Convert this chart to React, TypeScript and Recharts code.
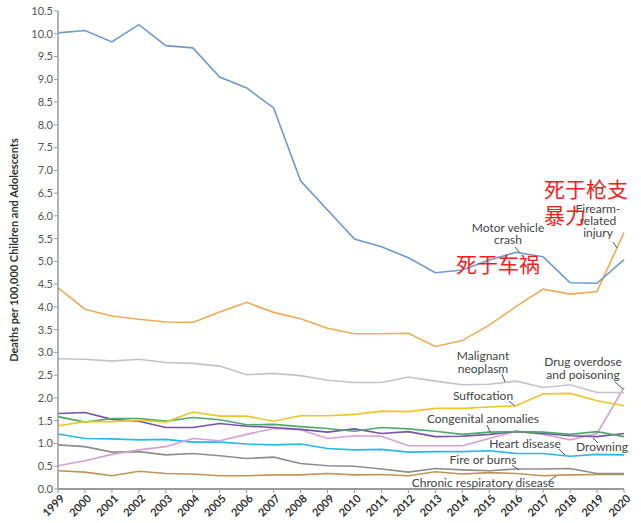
import { LineChart, Line, XAxis, YAxis } from 'recharts'

const YEARS = [
  1999, 2000, 2001, 2002, 2003, 2004, 2005, 2006, 2007, 2008, 2009,
  2010, 2011, 2012, 2013, 2014, 2015, 2016, 2017, 2018, 2019, 2020,
]

const MOTOR = [10.02, 10.07, 9.82, 10.2, 9.74, 9.69, 9.05, 8.81, 8.37, 6.77, 6.13, 5.49, 5.32, 5.08, 4.75, 4.81, 5.03, 5.2, 5.1, 4.53, 4.52, 5.04]
const FIREARM = [4.42, 3.95, 3.8, 3.73, 3.67, 3.66, 3.89, 4.1, 3.88, 3.74, 3.53, 3.41, 3.41, 3.42, 3.13, 3.26, 3.6, 4.01, 4.39, 4.28, 4.34, 5.63]
const NEOPLASM = [2.86, 2.85, 2.81, 2.85, 2.78, 2.76, 2.7, 2.51, 2.54, 2.49, 2.39, 2.34, 2.34, 2.46, 2.37, 2.29, 2.3, 2.37, 2.23, 2.29, 2.12, 2.12]
const SUFFOCATION = [1.39, 1.48, 1.48, 1.51, 1.47, 1.69, 1.6, 1.6, 1.49, 1.61, 1.61, 1.64, 1.71, 1.7, 1.77, 1.77, 1.8, 1.83, 2.09, 2.1, 1.94, 1.83]
const CONGENITAL = [1.59, 1.47, 1.55, 1.55, 1.49, 1.57, 1.52, 1.41, 1.42, 1.37, 1.33, 1.27, 1.35, 1.32, 1.27, 1.2, 1.25, 1.26, 1.25, 1.2, 1.26, 1.15]
const DROWNING = [1.66, 1.68, 1.53, 1.49, 1.35, 1.35, 1.44, 1.38, 1.35, 1.31, 1.25, 1.32, 1.22, 1.26, 1.15, 1.16, 1.2, 1.26, 1.22, 1.17, 1.15, 1.22]
const DRUG = [0.51, 0.62, 0.76, 0.86, 0.93, 1.11, 1.06, 1.2, 1.33, 1.3, 1.11, 1.17, 1.16, 0.95, 0.95, 0.95, 1.11, 1.27, 1.2, 1.08, 1.22, 2.23]
const HEART = [1.21, 1.11, 1.1, 1.08, 1.09, 1.03, 1.03, 0.99, 0.97, 0.99, 0.89, 0.86, 0.87, 0.81, 0.82, 0.82, 0.84, 0.78, 0.78, 0.72, 0.76, 0.75]
const FIRE = [0.97, 0.93, 0.81, 0.82, 0.75, 0.78, 0.73, 0.67, 0.7, 0.56, 0.51, 0.5, 0.44, 0.37, 0.45, 0.42, 0.4, 0.44, 0.44, 0.45, 0.34, 0.34]
const RESPIRATORY = [0.4, 0.37, 0.29, 0.39, 0.34, 0.33, 0.29, 0.29, 0.31, 0.31, 0.34, 0.31, 0.32, 0.29, 0.38, 0.33, 0.36, 0.34, 0.29, 0.31, 0.32, 0.32]

const Y_TICKS = [0, 0.5, 1, 1.5, 2, 2.5, 3, 3.5, 4, 4.5, 5, 5.5, 6, 6.5, 7, 7.5, 8, 8.5, 9, 9.5, 10, 10.5]

const data = YEARS.map((year, i) => ({
  year,
  motor: MOTOR[i],
  firearm: FIREARM[i],
  neoplasm: NEOPLASM[i],
  suffocation: SUFFOCATION[i],
  congenital: CONGENITAL[i],
  drowning: DROWNING[i],
  drug: DRUG[i],
  heart: HEART[i],
  fire: FIRE[i],
  respiratory: RESPIRATORY[i],
}))

const SERIES = [
  { key: 'respiratory', color: '#c09552' },
  { key: 'fire', color: '#8d8d8d' },
  { key: 'heart', color: '#25b8ee' },
  { key: 'drug', color: '#d7a0d5' },
  { key: 'drowning', color: '#7a52a8' },
  { key: 'congenital', color: '#4fa86b' },
  { key: 'suffocation', color: '#f2c428' },
  { key: 'neoplasm', color: '#c2c2ca' },
  { key: 'firearm', color: '#f2ab55' },
  { key: 'motor', color: '#6d9ad6' },
]

const FONT = 'Lato, "Open Sans", sans-serif'
const CJK = '"Noto Sans CJK SC", sans-serif'

const YearTick = ({ x, y, payload }: any) => {
  const ax = x + 4
  const ay = y + 1
  return (
    <text
      x={ax}
      y={ay}
      transform={`rotate(-45, ${ax}, ${ay})`}
      textAnchor="end"
      dominantBaseline="central"
      fontSize={11}
      fontWeight={700}
      fill="#333"
      fontFamily={FONT}
    >
      {payload.value}
    </text>
  )
}

// series labels + leader lines, placed by eye
const Notes = () => (
  <svg width={641} height={523} style={{ position: 'absolute', left: 0, top: 0, pointerEvents: 'none' }}>
    <g fontFamily={FONT} fontSize={12} fill="#444" textAnchor="middle">
      <text x={508} y={232}>Motor vehicle</text>
      <text x={508} y={244}>crash</text>
      <text x={598} y={213}>Firearm-</text>
      <text x={598} y={225}>related</text>
      <text x={598} y={237}>injury</text>
      <text x={483} y={360}>Malignant</text>
      <text x={483} y={373}>neoplasm</text>
      <text x={583} y={366}>Drug overdose</text>
      <text x={583} y={379}>and poisoning</text>
      <text x={483} y={400}>Suffocation</text>
      <text x={483} y={423}>Congenital anomalies</text>
      <text x={525} y={448}>Heart disease</text>
      <text x={602} y={451}>Drowning</text>
      <text x={483} y={464}>Fire or burns</text>
      <text x={483} y={487}>Chronic respiratory disease</text>
    </g>
    <g stroke="#555" strokeWidth={1}>
      <line x1={515} y1={247} x2={520} y2={253} />
      <line x1={613} y1={242} x2={617} y2={248} />
      <line x1={502} y1={374} x2={505} y2={382} />
      <line x1={615} y1={382} x2={623} y2={389} />
      <line x1={509} y1={401} x2={515} y2={406} />
      <line x1={487} y1={425} x2={490} y2={432} />
      <line x1={559} y1={449} x2={565} y2={455} />
      <line x1={593} y1={438} x2={598} y2={443} />
      <line x1={512} y1={465} x2={519} y2={470} />
      <line x1={548} y1={482} x2={556} y2={476} />
    </g>
    <g fontFamily={CJK} fontSize={21} fill="#ff1a1a">
      <text x={544} y={197}>死于枪支</text>
      <text x={544} y={223}>暴力</text>
      <text x={456} y={272}>死于车祸</text>
    </g>
    <text
      x={18}
      y={250}
      transform="rotate(-90, 18, 250)"
      textAnchor="middle"
      fontFamily={FONT}
      fontSize={11}
      fontWeight={700}
      fill="#333"
    >
      Deaths per 100,000 Children and Adolescents
    </text>
  </svg>
)

export default function App() {
  return (
    <div style={{ position: 'absolute', left: 0, top: 0, width: 641, height: 523, background: '#fff' }}>
      <LineChart width={641} height={523} data={data} margin={{ top: 11, right: 17, bottom: 0, left: 0 }}>
        <XAxis
          dataKey="year"
          height={34}
          interval={0}
          tick={<YearTick />}
          tickSize={4}
          axisLine={{ stroke: '#9a9a9a', strokeWidth: 2 }}
          tickLine={{ stroke: '#9a9a9a' }}
        />
        <YAxis
          width={58}
          domain={[0, 10.5]}
          ticks={Y_TICKS}
          interval={0}
          tickSize={4}
          tickMargin={1}
          tickFormatter={(v: number) => v.toFixed(1)}
          tick={{ fontSize: 11, fill: '#555', fontFamily: FONT }}
          axisLine={{ stroke: '#9a9a9a', strokeWidth: 1.5 }}
          tickLine={{ stroke: '#9a9a9a' }}
        />
        {SERIES.map(s => (
          <Line
            key={s.key}
            type="linear"
            dataKey={s.key}
            stroke={s.color}
            strokeWidth={1.6}
            dot={false}
            isAnimationActive={false}
          />
        ))}
      </LineChart>
      <Notes />
    </div>
  )
}
